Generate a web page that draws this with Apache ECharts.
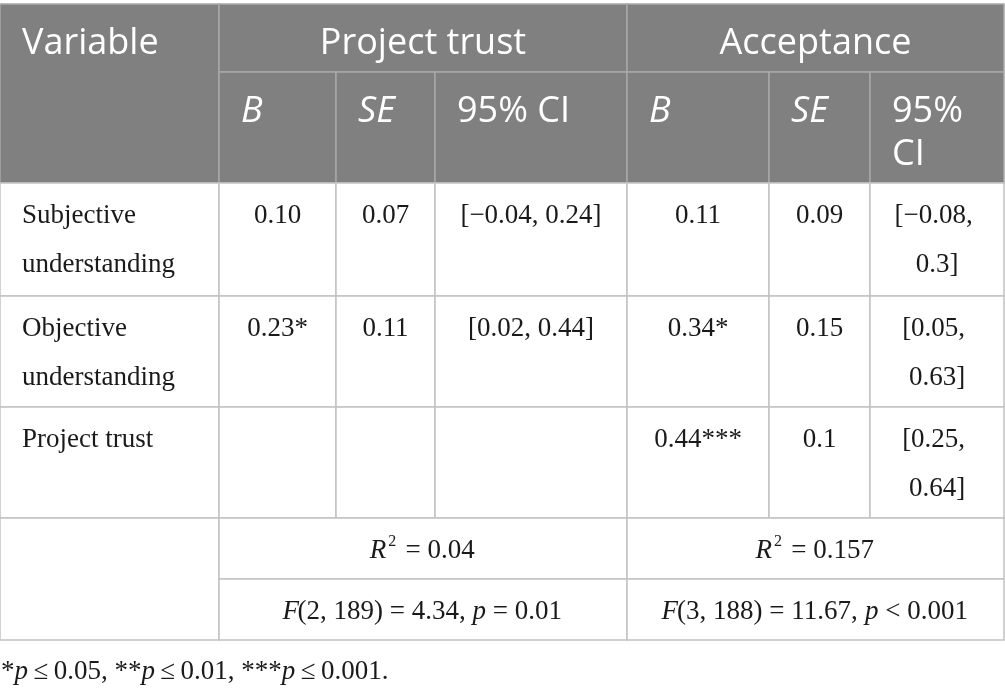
<!DOCTYPE html>
<html lang="en">
  <head>
    <meta charset="UTF-8" />
    <title>Regression table</title>
    <script src="https://cdn.jsdelivr.net/npm/echarts@6/dist/echarts.min.js"></script>
    <style>
      body { margin: 0; background: #fff; }
    </style>
  </head>
  <body>
    <div id="main" style="width: 1005px; height: 695px"></div>
    <script>
      // table content
      const variables = ['Subjective understanding', 'Objective understanding', 'Project trust'];
      const groupNames = ['Project trust', 'Acceptance'];
      const statNames = ['B', 'SE', '95% CI'];
      const trustB = ['0.10', '0.23*', ''];
      const trustSE = ['0.07', '0.11', ''];
      const trustCI = ['[−0.04, 0.24]', '[0.02, 0.44]', ''];
      const accB = ['0.11', '0.34*', '0.44***'];
      const accSE = ['0.09', '0.15', '0.1'];
      const accCI = ['[−0.08, 0.3]', '[0.05, 0.63]', '[0.25, 0.64]'];
      const r2Values = ['0.04', '0.157'];
      const fDf = ['2, 189', '3, 188'];
      const fValues = ['4.34', '11.67'];
      const pValues = ['= 0.01', '< 0.001'];
      const sigLevels = ['0.05', '0.01', '0.001'];

      // layout: column and row edges in page units
      const colEdges = [0, 219, 336, 435, 627, 769, 870, 1004];
      const rowEdges = [4, 72, 183, 296, 407, 518, 579, 640];

      const cells = [];
      function addCell(c0, c1, r0, r1, text, kind, align, italic) {
        cells.push({ c0, c1, r0, r1, text, kind, align, italic });
      }

      // header
      addCell(0, 1, 0, 2, 'Variable', 'head', 'left');
      groupNames.forEach(function (g, i) {
        addCell(1 + i * 3, 4 + i * 3, 0, 1, g, 'head', 'center');
        statNames.forEach(function (s, j) {
          addCell(1 + i * 3 + j, 2 + i * 3 + j, 1, 2, s, 'head', 'left', j < 2);
        });
      });

      // body
      variables.forEach(function (v, i) {
        const row = [v, trustB[i], trustSE[i], trustCI[i], accB[i], accSE[i], accCI[i]];
        row.forEach(function (t, j) {
          addCell(j, j + 1, 2 + i, 3 + i, t, 'body', j === 0 ? 'left' : 'center');
        });
      });

      // model stats
      addCell(0, 1, 5, 7, '', 'body', 'left');
      r2Values.forEach(function (r, i) {
        addCell(1 + i * 3, 4 + i * 3, 5, 6, '{i|R}{sup|2} = ' + r, 'body', 'center');
        addCell(1 + i * 3, 4 + i * 3, 6, 7,
          '{i|F}(' + fDf[i] + ') = ' + fValues[i] + ', {i|p} ' + pValues[i], 'body', 'center');
      });

      const footnote = sigLevels.map(function (s, i) {
        return '*'.repeat(i + 1) + '{i|p}\u2009≤\u2009' + s;
      }).join(', ') + '.';

      const serifFont = '27px "Liberation Serif"';
      const serifItalic = 'italic 27px "Liberation Serif"';
      const supFont = '16px "Liberation Serif"';
      const sansFont = '36px "Open Sans"';
      const sansItalic = 'italic 36px "Open Sans"';

      function draw() {
        const chart = echarts.init(document.getElementById('main'));
        const option = {
          animation: false,
          grid: { left: 0, right: 0, top: 0, bottom: 0 },
          xAxis: { type: 'value', min: 0, max: 1005, show: false },
          yAxis: { type: 'value', min: 0, max: 695, inverse: true, show: false },
          title: {
            text: footnote,
            left: 1,
            top: 658,
            padding: 0,
            textStyle: {
              fontFamily: 'Liberation Serif',
              fontSize: 27,
              fontWeight: 'normal',
              color: '#1a1a1a',
              rich: {
                i: { fontFamily: 'Liberation Serif', fontSize: 27, fontStyle: 'italic', color: '#1a1a1a' }
              }
            }
          },
          series: [
            {
              type: 'custom',
              coordinateSystem: 'cartesian2d',
              silent: true,
              data: cells.map(function (c) {
                return [colEdges[c.c0], rowEdges[c.r0], colEdges[c.c1], rowEdges[c.r1]];
              }),
              renderItem: function (params, api) {
                const cell = cells[params.dataIndex];
                const p0 = api.coord([api.value(0), api.value(1)]);
                const p1 = api.coord([api.value(2), api.value(3)]);
                const w = p1[0] - p0[0];
                const h = p1[1] - p0[1];
                const head = cell.kind === 'head';
                const pad = head ? 22 : 12;
                const tx = cell.align === 'left' ? p0[0] + 22 : p0[0] + w / 2;
                let font = head ? sansFont : serifFont;
                if (cell.italic) font = head ? sansItalic : serifItalic;
                return {
                  type: 'group',
                  children: [
                    {
                      type: 'rect',
                      shape: { x: p0[0], y: p0[1], width: w, height: h },
                      style: {
                        fill: head ? '#808080' : '#ffffff',
                        stroke: head ? '#a8a8a8' : '#c2c2c2',
                        lineWidth: 1.5
                      }
                    },
                    {
                      type: 'text',
                      z2: 10,
                      style: {
                        text: cell.text,
                        x: tx,
                        y: p0[1] + (head ? 18 : 8),
                        align: cell.align,
                        verticalAlign: 'top',
                        width: w - pad * 2,
                        overflow: 'break',
                        font: font,
                        lineHeight: head ? 43 : 49,
                        fill: head ? '#ffffff' : '#1a1a1a',
                        rich: {
                          i: { font: serifItalic, lineHeight: 49, fill: '#1a1a1a' },
                          sup: { font: supFont, lineHeight: 49, padding: [0, 3, 18, 4], fill: '#1a1a1a' }
                        }
                      }
                    }
                  ]
                };
              }
            }
          ]
        };
        chart.setOption(option);
      }

      // make sure the fonts are ready before text widths get measured
      Promise.all([serifFont, serifItalic, supFont, sansFont, sansItalic].map(function (f) {
        return document.fonts.load(f, 'Ab0');
      })).then(function () {
        setTimeout(draw, 50);
      }, draw);
    </script>
  </body>
</html>
